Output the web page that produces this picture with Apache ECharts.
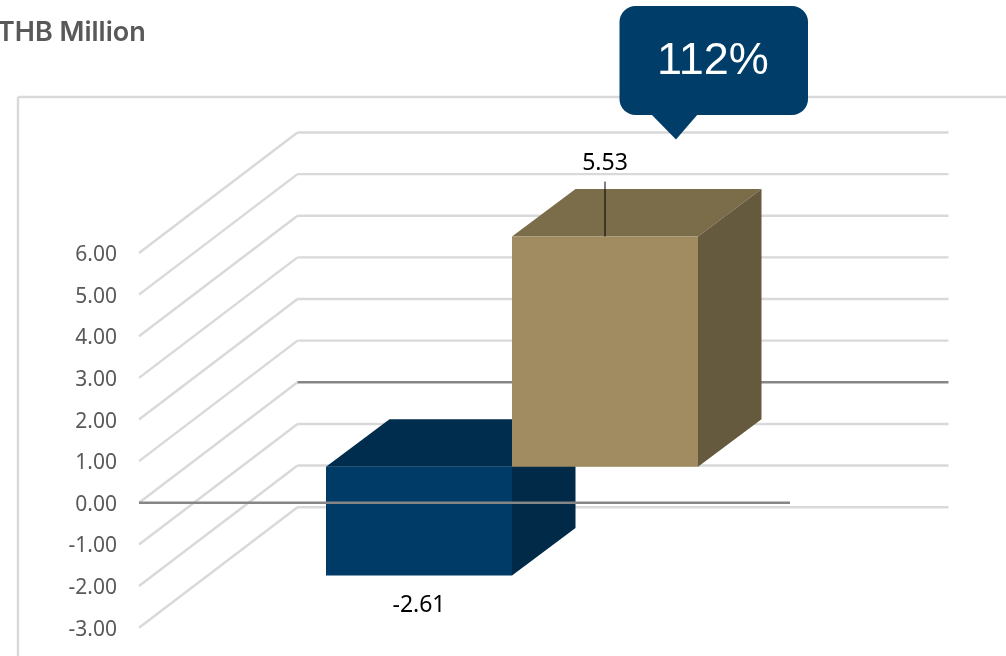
<!DOCTYPE html>
<html>
<head>
<meta charset="utf-8">
<style>html,body{margin:0;padding:0;background:#fff}#chart{width:1006px;height:656px}</style>
<script src="https://cdn.jsdelivr.net/npm/echarts@6/dist/echarts.min.js"></script>
</head>
<body>
<div id="chart"></div>
<script>
// Chart values
const categories = [''];
const firstPeriod = [-2.61];
const secondPeriod = [5.53];
const axisTicks = [-3, -2, -1, 0, 1, 2, 3, 4, 5, 6];
const unitLabel = 'THB Million';
const changeLabel = '112%';

// Pseudo-3D projection, in pixels
const WALL_DX = 158.5, WALL_DY = -120.5;   // front plane to back wall
const BAR_DX = 47.5, BAR_DY = -36;         // front plane to bar front face
const SIDE_DX = 63.5, SIDE_DY = -47.5;     // bar front face to bar back face
const BAR_RATIO = 186 / 651;               // bar width as a share of the category band

const wallColor = '#d9d9d9', zeroColor = '#868686';

function renderWall(params, api) {
  const tick = api.value(1);
  const p = api.coord([0, tick]);
  const band = api.size([1, 0])[0];
  const x0 = p[0] - band / 2, x1 = p[0] + band / 2;
  return {
    type: 'group',
    children: [
      { type: 'polyline', silent: true,
        shape: { points: [[x0, p[1]], [x0 + WALL_DX, p[1] + WALL_DY]] },
        style: { stroke: wallColor, lineWidth: 2.4, fill: null } },
      { type: 'line', silent: true,
        shape: { x1: x0 + WALL_DX, y1: p[1] + WALL_DY, x2: x1 + WALL_DX, y2: p[1] + WALL_DY },
        style: { stroke: tick === 0 ? zeroColor : wallColor, lineWidth: 2.4 } }
    ]
  };
}

function barRenderer(offset, front, top, side, withLeader) {
  return function (params, api) {
    const value = api.value(1);
    const end = api.coord([0, value]);
    const base = api.coord([0, 0]);
    const width = api.size([1, 0])[0] * BAR_RATIO;
    const x0 = end[0] + BAR_DX + offset * width;
    const x1 = x0 + width;
    const yTop = Math.min(end[1], base[1]) + BAR_DY;
    const yBot = Math.max(end[1], base[1]) + BAR_DY;
    const cx = (x0 + x1) / 2;
    const children = [
      { type: 'polygon', silent: true,
        shape: { points: [[x0, yTop], [x0 + SIDE_DX, yTop + SIDE_DY], [x1 + SIDE_DX, yTop + SIDE_DY], [x1, yTop]] },
        style: { fill: top } },
      { type: 'polygon', silent: true,
        shape: { points: [[x1, yTop], [x1 + SIDE_DX, yTop + SIDE_DY], [x1 + SIDE_DX, yBot + SIDE_DY], [x1, yBot]] },
        style: { fill: side } },
      { type: 'rect', silent: true,
        shape: { x: x0, y: yTop, width: width, height: yBot - yTop },
        style: { fill: front } }
    ];
    if (withLeader) {
      children.push({ type: 'line', silent: true,
        shape: { x1: cx, y1: yTop - 55, x2: cx, y2: yTop },
        style: { stroke: '#000', lineWidth: 1 } });
    }
    children.push({ type: 'text', silent: true,
      style: {
        x: cx, y: value >= 0 ? yTop - 73 : yBot + 30,
        text: value.toFixed(2), align: 'center', verticalAlign: 'middle',
        font: '400 23px "Noto Sans"', fill: '#000'
      } });
    return { type: 'group', children: children };
  };
}

function renderZero(params, api) {
  const p = api.coord([0, 0]);
  const band = api.size([1, 0])[0];
  return { type: 'line', silent: true,
    shape: { x1: p[0] - band / 2, y1: p[1], x2: p[0] + band / 2, y2: p[1] },
    style: { stroke: zeroColor, lineWidth: 2.4 } };
}

const chart = echarts.init(document.getElementById('chart'), null, { renderer: 'canvas' });
chart.setOption({
  animation: false,
  backgroundColor: '#ffffff',
  grid: { left: 139, width: 651, top: 253, height: 374.7 },
  xAxis: { type: 'category', data: categories, show: false },
  yAxis: {
    type: 'value', min: -3, max: 6, interval: 1,
    axisLine: { show: false }, axisTick: { show: false }, splitLine: { show: false },
    axisLabel: {
      margin: 22,
      formatter: v => '{tick|' + v.toFixed(2) + '}',
      rich: { tick: { color: '#595959', fontSize: 21, fontFamily: '"Noto Sans"', padding: [4, 0, 0, 0] } }
    }
  },
  series: [
    { type: 'custom', renderItem: renderWall, data: axisTicks.map(t => [0, t]), z: 1 },
    { type: 'custom', renderItem: barRenderer(-1, '#003a66', '#002c4e', '#002a47', false),
      data: firstPeriod.map((v, i) => [i, v]), z: 2 },
    { type: 'custom', renderItem: barRenderer(0, '#a08c60', '#7b6d4a', '#655a3d', true),
      data: secondPeriod.map((v, i) => [i, v]), z: 3 },
    { type: 'custom', renderItem: renderZero, data: [[0, 0]], z: 4 }
  ],
  graphic: [
    { type: 'line', silent: true, z: 0,
      shape: { x1: 18, y1: 97, x2: 1006, y2: 97 }, style: { stroke: wallColor, lineWidth: 2.4 } },
    { type: 'line', silent: true, z: 0,
      shape: { x1: 18, y1: 97, x2: 18, y2: 656 }, style: { stroke: wallColor, lineWidth: 2.4 } },
    { type: 'text', silent: true, z: 10, x: -3, y: 33,
      style: { text: unitLabel, font: '600 27px "Inter"', fill: '#595959', align: 'left', verticalAlign: 'middle' } },
    { type: 'rect', silent: true, z: 10,
      shape: { x: 619.5, y: 6, width: 188.5, height: 109, r: 16 }, style: { fill: '#003d69' } },
    { type: 'polygon', silent: true, z: 10,
      shape: { points: [[651, 114], [698, 114], [676, 139.5]] }, style: { fill: '#003d69' } },
    { type: 'text', silent: true, z: 11, x: 713, y: 62,
      style: { text: changeLabel, font: '400 45px "Liberation Sans"', fill: '#ffffff', align: 'center', verticalAlign: 'middle' } }
  ]
});
</script>
</body>
</html>
